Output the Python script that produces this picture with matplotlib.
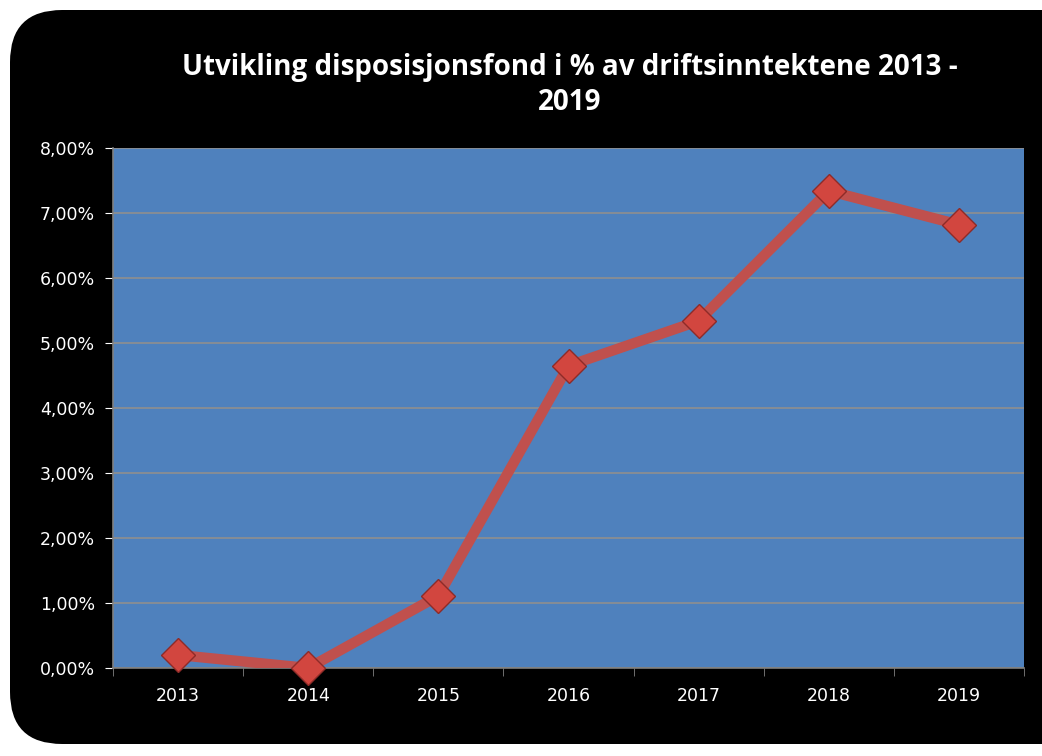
import matplotlib.pyplot as plt
from matplotlib.patches import FancyBboxPatch
import numpy as np

years = ["2013", "2014", "2015", "2016", "2017", "2018", "2019"]
values = [0.20, 0.00, 1.11, 4.65, 5.34, 7.34, 6.82]
yticks = [0, 1, 2, 3, 4, 5, 6, 7, 8]

W, H = 1042, 756
fig = plt.figure(figsize=(W / 100, H / 100), dpi=100)
fig.patch.set_facecolor("white")

# black rounded chart area
box = FancyBboxPatch((10 / W, 12 / H), 1.2, (H - 22) / H,
                     boxstyle="round,pad=0,rounding_size=0.05",
                     transform=fig.transFigure, facecolor="black",
                     edgecolor="none", mutation_aspect=W / H, zorder=-10)
fig.patches.append(box)

ax = fig.add_axes([113 / W, 1 - 668 / H, 911 / W, 520 / H])
ax.set_facecolor("#4F81BD")

x = np.arange(len(years))
ax.plot(x, values, color="#C0504D", lw=7.5, solid_capstyle="round", zorder=3)
ax.plot(x, values, ls="none", marker="D", ms=17, mfc="#D2463F",
        mec="#8E2B28", mew=1, zorder=4, clip_on=False)

ax.set_xlim(-0.5, len(years) - 0.5)
ax.set_ylim(0, 8)
ax.set_yticks(yticks)
ax.set_yticklabels([f"{v:.2f}%".replace(".", ",") for v in yticks])
ax.set_xticks(x)
ax.set_xticklabels(years)
ax.set_xticks(np.arange(-0.5, len(years)), minor=True)
ax.tick_params(axis="x", which="major", length=0, pad=14)
ax.tick_params(axis="x", which="minor", length=6, color="#808080")
ax.tick_params(axis="y", length=6, color="#808080", pad=7)
ax.tick_params(colors="white", labelsize=12.5)
for lab in ax.get_xticklabels() + ax.get_yticklabels():
    lab.set_color("white")
    lab.set_family("DejaVu Sans")

ax.grid(axis="y", color="#8F8F8F", lw=1.2)
ax.set_axisbelow(True)
for s in ["top", "right"]:
    ax.spines[s].set_visible(False)
for s in ["left", "bottom"]:
    ax.spines[s].set_color("#808080")
    ax.spines[s].set_linewidth(1.2)

fig.text(570 / W, 1 - 85 / H,
         "Utvikling disposisjonsfond i % av driftsinntektene 2013 -\n2019",
         ha="center", va="center", color="white", fontsize=20,
         fontweight="bold", family="Open Sans", linespacing=1.3)

fig.savefig("out.png", dpi=100, facecolor=fig.get_facecolor())
